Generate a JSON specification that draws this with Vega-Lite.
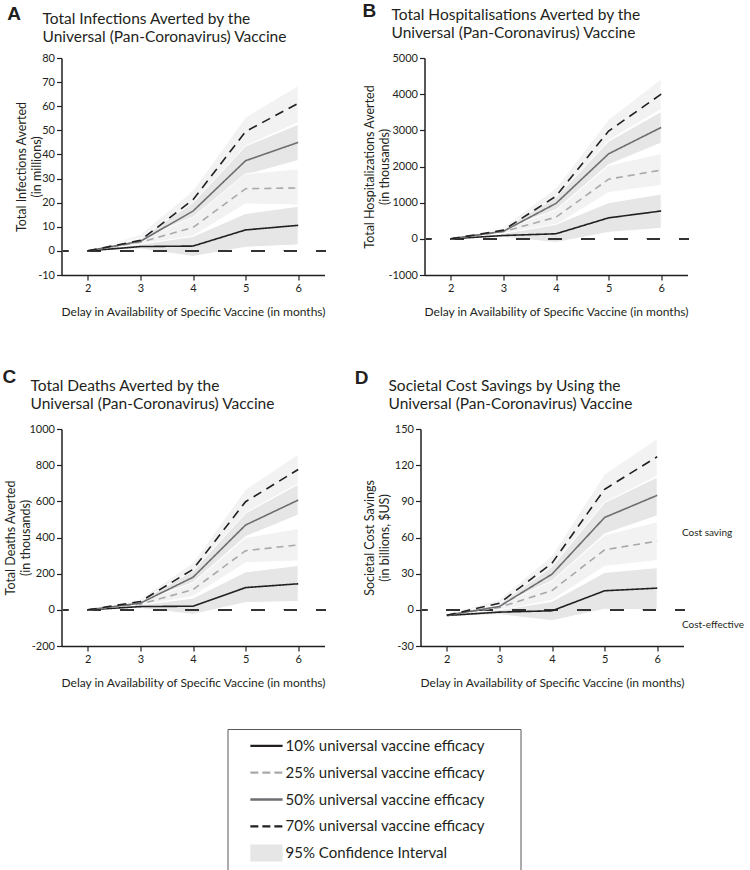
{
  "$schema": "https://vega.github.io/schema/vega-lite/v6.json",
  "background": "white",
  "padding": {"left": 2.5, "top": 2, "right": 5, "bottom": 0},
  "config": {
    "font": "Lato",
    "view": {"stroke": null},
    "axis": {"grid": false, "domainColor": "#231f20", "tickColor": "#231f20", "labelColor": "#231f20", "titleColor": "#231f20", "domainWidth": 1.5, "tickWidth": 1.2, "tickSize": 5, "labelFontSize": 11, "titleFontWeight": "normal", "labelPadding": 2, "labelOverlap": false, "labelFlush": false},
    "axisX": {"titleFontSize": 12, "titlePadding": 13},
    "axisY": {"titleFontSize": 12.5, "titleLineHeight": 15, "titlePadding": 3},
    "title": {"fontSize": 15.5, "fontWeight": "normal", "color": "#231f20", "lineHeight": 18, "anchor": "start", "frame": "group"}
  },
  "resolve": {"scale": {"color": "independent", "strokeDash": "independent"}},
  "datasets": {
    "A": [
      {"x": 2, "s": "10%", "m": 0, "lo": 0, "hi": 0},
      {"x": 3, "s": "10%", "m": 1.8, "lo": 0.8, "hi": 2.8},
      {"x": 4, "s": "10%", "m": 2.0, "lo": -2.3, "hi": 6.0},
      {"x": 5, "s": "10%", "m": 8.7, "lo": 1.5, "hi": 15.5},
      {"x": 6, "s": "10%", "m": 10.6, "lo": 2.5, "hi": 18.5},
      {"x": 2, "s": "25%", "m": 0, "lo": 0, "hi": 0},
      {"x": 3, "s": "25%", "m": 3.6, "lo": 2.2, "hi": 5.0},
      {"x": 4, "s": "25%", "m": 9.7, "lo": 6.2, "hi": 14.0},
      {"x": 5, "s": "25%", "m": 25.8, "lo": 19.5, "hi": 32.0},
      {"x": 6, "s": "25%", "m": 26.1, "lo": 19.0, "hi": 34.0},
      {"x": 2, "s": "50%", "m": 0, "lo": 0, "hi": 0},
      {"x": 3, "s": "50%", "m": 4.0, "lo": 2.8, "hi": 5.5},
      {"x": 4, "s": "50%", "m": 16.5, "lo": 13.5, "hi": 20.0},
      {"x": 5, "s": "50%", "m": 37.4, "lo": 31.5, "hi": 43.5},
      {"x": 6, "s": "50%", "m": 45.0, "lo": 37.5, "hi": 52.5},
      {"x": 2, "s": "70%", "m": 0, "lo": 0, "hi": 0},
      {"x": 3, "s": "70%", "m": 4.4, "lo": 3.0, "hi": 6.8},
      {"x": 4, "s": "70%", "m": 21.2, "lo": 17.0, "hi": 25.0},
      {"x": 5, "s": "70%", "m": 49.5, "lo": 43.5, "hi": 55.5},
      {"x": 6, "s": "70%", "m": 61.2, "lo": 53.2, "hi": 68.5}
    ],
    "B": [
      {"x": 2, "s": "10%", "m": 0, "lo": 0, "hi": 0},
      {"x": 3, "s": "10%", "m": 92, "lo": 40, "hi": 150},
      {"x": 4, "s": "10%", "m": 140, "lo": -100, "hi": 400},
      {"x": 5, "s": "10%", "m": 580, "lo": 180, "hi": 1000},
      {"x": 6, "s": "10%", "m": 770, "lo": 290, "hi": 1240},
      {"x": 2, "s": "25%", "m": 0, "lo": 0, "hi": 0},
      {"x": 3, "s": "25%", "m": 200, "lo": 110, "hi": 270},
      {"x": 4, "s": "25%", "m": 600, "lo": 380, "hi": 800},
      {"x": 5, "s": "25%", "m": 1650, "lo": 1280, "hi": 2030},
      {"x": 6, "s": "25%", "m": 1900, "lo": 1480, "hi": 2360},
      {"x": 2, "s": "50%", "m": 0, "lo": 0, "hi": 0},
      {"x": 3, "s": "50%", "m": 210, "lo": 140, "hi": 290},
      {"x": 4, "s": "50%", "m": 980, "lo": 800, "hi": 1150},
      {"x": 5, "s": "50%", "m": 2350, "lo": 2050, "hi": 2700},
      {"x": 6, "s": "50%", "m": 3080, "lo": 2650, "hi": 3520},
      {"x": 2, "s": "70%", "m": 0, "lo": 0, "hi": 0},
      {"x": 3, "s": "70%", "m": 240, "lo": 160, "hi": 330},
      {"x": 4, "s": "70%", "m": 1180, "lo": 1000, "hi": 1400},
      {"x": 5, "s": "70%", "m": 2980, "lo": 2720, "hi": 3300},
      {"x": 6, "s": "70%", "m": 4000, "lo": 3580, "hi": 4420}
    ],
    "C": [
      {"x": 2, "s": "10%", "m": 0, "lo": 0, "hi": 0},
      {"x": 3, "s": "10%", "m": 18, "lo": 8, "hi": 28},
      {"x": 4, "s": "10%", "m": 20, "lo": -25, "hi": 65},
      {"x": 5, "s": "10%", "m": 123, "lo": 40, "hi": 210},
      {"x": 6, "s": "10%", "m": 144, "lo": 46, "hi": 245},
      {"x": 2, "s": "25%", "m": 0, "lo": 0, "hi": 0},
      {"x": 3, "s": "25%", "m": 31, "lo": 20, "hi": 45},
      {"x": 4, "s": "25%", "m": 112, "lo": 75, "hi": 150},
      {"x": 5, "s": "25%", "m": 327, "lo": 260, "hi": 400},
      {"x": 6, "s": "25%", "m": 359, "lo": 270, "hi": 450},
      {"x": 2, "s": "50%", "m": 0, "lo": 0, "hi": 0},
      {"x": 3, "s": "50%", "m": 37, "lo": 25, "hi": 50},
      {"x": 4, "s": "50%", "m": 180, "lo": 150, "hi": 215},
      {"x": 5, "s": "50%", "m": 469, "lo": 405, "hi": 535},
      {"x": 6, "s": "50%", "m": 607, "lo": 524, "hi": 695},
      {"x": 2, "s": "70%", "m": 0, "lo": 0, "hi": 0},
      {"x": 3, "s": "70%", "m": 46, "lo": 30, "hi": 60},
      {"x": 4, "s": "70%", "m": 224, "lo": 185, "hi": 260},
      {"x": 5, "s": "70%", "m": 598, "lo": 535, "hi": 666},
      {"x": 6, "s": "70%", "m": 776, "lo": 697, "hi": 861}
    ],
    "D": [
      {"x": 2, "s": "10%", "m": -4.7, "lo": -5.5, "hi": -4.0},
      {"x": 3, "s": "10%", "m": -1.9, "lo": -4.0, "hi": 0},
      {"x": 4, "s": "10%", "m": -0.8, "lo": -9.0, "hi": 7.0},
      {"x": 5, "s": "10%", "m": 15.8, "lo": 0.5, "hi": 31.0},
      {"x": 6, "s": "10%", "m": 18.0, "lo": 0, "hi": 35.0},
      {"x": 2, "s": "25%", "m": -4.5, "lo": -5.5, "hi": -3.5},
      {"x": 3, "s": "25%", "m": 2.0, "lo": -1.0, "hi": 4.0},
      {"x": 4, "s": "25%", "m": 16.0, "lo": 8.0, "hi": 24.0},
      {"x": 5, "s": "25%", "m": 49.8, "lo": 36.0, "hi": 62.0},
      {"x": 6, "s": "25%", "m": 57.0, "lo": 41.0, "hi": 73.0},
      {"x": 2, "s": "50%", "m": -4.5, "lo": -5.5, "hi": -3.5},
      {"x": 3, "s": "50%", "m": 2.8, "lo": 0, "hi": 5.0},
      {"x": 4, "s": "50%", "m": 29.6, "lo": 24.0, "hi": 36.0},
      {"x": 5, "s": "50%", "m": 76.6, "lo": 63.0, "hi": 89.0},
      {"x": 6, "s": "50%", "m": 95.0, "lo": 78.0, "hi": 110.0},
      {"x": 2, "s": "70%", "m": -4.5, "lo": -5.5, "hi": -3.5},
      {"x": 3, "s": "70%", "m": 5.5, "lo": 1.5, "hi": 8.5},
      {"x": 4, "s": "70%", "m": 38.7, "lo": 30.0, "hi": 45.0},
      {"x": 5, "s": "70%", "m": 100.0, "lo": 89.0, "hi": 112.5},
      {"x": 6, "s": "70%", "m": 127.0, "lo": 111.0, "hi": 142.0}
    ]
  },
  "vconcat": [
    {
      "vconcat": [
        {
          "hconcat": [
            {
              "width": 263, "height": 217,
              "data": {"name": "A"},
              "title": {"text": ["Total Infections Averted by the", "Universal (Pan-Coronavirus) Vaccine"], "dx": -19, "offset": -40},
              "layer": [
                {"transform": [{"filter": "datum.s === '70%'"}], "mark": {"type": "area", "color": "#f2f2f2", "stroke": "white", "strokeWidth": 1},
                 "encoding": {
                   "x": {"field": "x", "type": "quantitative", "scale": {"domain": [1.5, 6.5], "nice": false}, "axis": {"values": [2, 3, 4, 5, 6], "format": "d", "title": "Delay in Availability of Specific Vaccine (in months)"}},
                   "y": {"field": "lo", "type": "quantitative", "scale": {"domain": [-10, 80], "nice": false}, "axis": {"values": [-10, 0, 10, 20, 30, 40, 50, 60, 70, 80], "tickCount": 12, "labelOverlap": false, "titlePadding": -6, "labelExpr": "datum.value < 0 ? '-' + abs(datum.value) : '' + datum.value", "title": ["Total Infections Averted", "(in millions)"]}},
                   "y2": {"field": "hi"}}},
                {"transform": [{"filter": "datum.s === '50%'"}], "mark": {"type": "area", "color": "#e6e6e6", "stroke": "white", "strokeWidth": 1},
                 "encoding": {"x": {"field": "x", "type": "quantitative"}, "y": {"field": "lo", "type": "quantitative"}, "y2": {"field": "hi"}}},
                {"transform": [{"filter": "datum.s === '25%'"}], "mark": {"type": "area", "color": "#f2f2f2", "stroke": "white", "strokeWidth": 1},
                 "encoding": {"x": {"field": "x", "type": "quantitative"}, "y": {"field": "lo", "type": "quantitative"}, "y2": {"field": "hi"}}},
                {"transform": [{"filter": "datum.s === '10%'"}], "mark": {"type": "area", "color": "#e6e6e6", "stroke": "white", "strokeWidth": 1},
                 "encoding": {"x": {"field": "x", "type": "quantitative"}, "y": {"field": "lo", "type": "quantitative"}, "y2": {"field": "hi"}}},
                {"mark": {"type": "rule", "color": "#333333", "strokeWidth": 1.8, "strokeDash": [13, 19.7], "strokeDashOffset": 8},
                 "encoding": {"x": {"datum": 1.53, "type": "quantitative"}, "x2": {"datum": 6.52}, "y": {"datum": 0, "type": "quantitative"}}},
                {"mark": {"type": "line", "strokeWidth": 1.6},
                 "encoding": {"x": {"field": "x", "type": "quantitative"}, "y": {"field": "m", "type": "quantitative"},
                   "color": {"field": "s", "type": "nominal", "scale": {"domain": ["10%", "25%", "50%", "70%"], "range": ["#231f20", "#a7a9ac", "#6d6e71", "#231f20"]}, "legend": null},
                   "strokeDash": {"field": "s", "type": "nominal", "scale": {"domain": ["10%", "25%", "50%", "70%"], "range": [[1, 0], [7, 5], [1, 0], [9, 6]]}, "legend": null}}},
                {"data": {"values": [{"lab": "A", "lx": 0.47, "ly": 98.2}]},
                 "mark": {"type": "text", "font": "Liberation Sans", "fontWeight": "bold", "fontSize": 19, "align": "left", "baseline": "middle", "color": "#231f20"},
                 "encoding": {"x": {"field": "lx", "type": "quantitative"}, "y": {"field": "ly", "type": "quantitative"}, "text": {"field": "lab"}}}
              ]
            },
            {
              "width": 263, "height": 217,
              "data": {"name": "B"},
              "title": {"text": ["Total Hospitalisations Averted by the", "Universal (Pan-Coronavirus) Vaccine"], "dx": -33, "offset": -39.5},
              "layer": [
                {"transform": [{"filter": "datum.s === '70%'"}], "mark": {"type": "area", "color": "#f2f2f2", "stroke": "white", "strokeWidth": 1},
                 "encoding": {
                   "x": {"field": "x", "type": "quantitative", "scale": {"domain": [1.5, 6.5], "nice": false}, "axis": {"values": [2, 3, 4, 5, 6], "format": "d", "title": "Delay in Availability of Specific Vaccine (in months)"}},
                   "y": {"field": "lo", "type": "quantitative", "scale": {"domain": [-1000, 5000], "nice": false}, "axis": {"values": [-1000, 0, 1000, 2000, 3000, 4000, 5000], "tickCount": 12, "labelOverlap": false, "titlePadding": -3.5, "labelExpr": "datum.value < 0 ? '-' + abs(datum.value) : '' + datum.value", "title": ["Total Hospitalizations Averted", "(in thousands)"]}},
                   "y2": {"field": "hi"}}},
                {"transform": [{"filter": "datum.s === '50%'"}], "mark": {"type": "area", "color": "#e6e6e6", "stroke": "white", "strokeWidth": 1},
                 "encoding": {"x": {"field": "x", "type": "quantitative"}, "y": {"field": "lo", "type": "quantitative"}, "y2": {"field": "hi"}}},
                {"transform": [{"filter": "datum.s === '25%'"}], "mark": {"type": "area", "color": "#f2f2f2", "stroke": "white", "strokeWidth": 1},
                 "encoding": {"x": {"field": "x", "type": "quantitative"}, "y": {"field": "lo", "type": "quantitative"}, "y2": {"field": "hi"}}},
                {"transform": [{"filter": "datum.s === '10%'"}], "mark": {"type": "area", "color": "#e6e6e6", "stroke": "white", "strokeWidth": 1},
                 "encoding": {"x": {"field": "x", "type": "quantitative"}, "y": {"field": "lo", "type": "quantitative"}, "y2": {"field": "hi"}}},
                {"mark": {"type": "rule", "color": "#333333", "strokeWidth": 1.8, "strokeDash": [13, 19.7], "strokeDashOffset": 8},
                 "encoding": {"x": {"datum": 1.53, "type": "quantitative"}, "x2": {"datum": 6.52}, "y": {"datum": 0, "type": "quantitative"}}},
                {"mark": {"type": "line", "strokeWidth": 1.6},
                 "encoding": {"x": {"field": "x", "type": "quantitative"}, "y": {"field": "m", "type": "quantitative"},
                   "color": {"field": "s", "type": "nominal", "scale": {"domain": ["10%", "25%", "50%", "70%"], "range": ["#231f20", "#a7a9ac", "#6d6e71", "#231f20"]}, "legend": null},
                   "strokeDash": {"field": "s", "type": "nominal", "scale": {"domain": ["10%", "25%", "50%", "70%"], "range": [[1, 0], [7, 5], [1, 0], [9, 6]]}, "legend": null}}},
                {"data": {"values": [{"lab": "B", "lx": 0.32, "ly": 6286}]},
                 "mark": {"type": "text", "font": "Liberation Sans", "fontWeight": "bold", "fontSize": 19, "align": "left", "baseline": "middle", "color": "#231f20"},
                 "encoding": {"x": {"field": "lx", "type": "quantitative"}, "y": {"field": "ly", "type": "quantitative"}, "text": {"field": "lab"}}}
              ]
            }
          ],
          "spacing": 35
        },
        {
          "hconcat": [
            {
              "width": 263, "height": 217,
              "data": {"name": "C"},
              "title": {"text": ["Total Deaths Averted by the", "Universal (Pan-Coronavirus) Vaccine"], "dx": -31, "offset": -44.8},
              "layer": [
                {"transform": [{"filter": "datum.s === '70%'"}], "mark": {"type": "area", "color": "#f2f2f2", "stroke": "white", "strokeWidth": 1},
                 "encoding": {
                   "x": {"field": "x", "type": "quantitative", "scale": {"domain": [1.5, 6.5], "nice": false}, "axis": {"values": [2, 3, 4, 5, 6], "format": "d", "title": "Delay in Availability of Specific Vaccine (in months)"}},
                   "y": {"field": "lo", "type": "quantitative", "scale": {"domain": [-200, 1000], "nice": false}, "axis": {"values": [-200, 0, 200, 400, 600, 800, 1000], "tickCount": 12, "labelOverlap": false, "titlePadding": -4, "labelExpr": "datum.value < 0 ? '-' + abs(datum.value) : '' + datum.value", "title": ["Total Deaths Averted", "(in thousands)"]}},
                   "y2": {"field": "hi"}}},
                {"transform": [{"filter": "datum.s === '50%'"}], "mark": {"type": "area", "color": "#e6e6e6", "stroke": "white", "strokeWidth": 1},
                 "encoding": {"x": {"field": "x", "type": "quantitative"}, "y": {"field": "lo", "type": "quantitative"}, "y2": {"field": "hi"}}},
                {"transform": [{"filter": "datum.s === '25%'"}], "mark": {"type": "area", "color": "#f2f2f2", "stroke": "white", "strokeWidth": 1},
                 "encoding": {"x": {"field": "x", "type": "quantitative"}, "y": {"field": "lo", "type": "quantitative"}, "y2": {"field": "hi"}}},
                {"transform": [{"filter": "datum.s === '10%'"}], "mark": {"type": "area", "color": "#e6e6e6", "stroke": "white", "strokeWidth": 1},
                 "encoding": {"x": {"field": "x", "type": "quantitative"}, "y": {"field": "lo", "type": "quantitative"}, "y2": {"field": "hi"}}},
                {"mark": {"type": "rule", "color": "#333333", "strokeWidth": 1.8, "strokeDash": [13, 19.7], "strokeDashOffset": 8},
                 "encoding": {"x": {"datum": 1.53, "type": "quantitative"}, "x2": {"datum": 6.52}, "y": {"datum": 0, "type": "quantitative"}}},
                {"mark": {"type": "line", "strokeWidth": 1.6},
                 "encoding": {"x": {"field": "x", "type": "quantitative"}, "y": {"field": "m", "type": "quantitative"},
                   "color": {"field": "s", "type": "nominal", "scale": {"domain": ["10%", "25%", "50%", "70%"], "range": ["#231f20", "#a7a9ac", "#6d6e71", "#231f20"]}, "legend": null},
                   "strokeDash": {"field": "s", "type": "nominal", "scale": {"domain": ["10%", "25%", "50%", "70%"], "range": [[1, 0], [7, 5], [1, 0], [9, 6]]}, "legend": null}}},
                {"data": {"values": [{"lab": "C", "lx": 0.38, "ly": 1289}]},
                 "mark": {"type": "text", "font": "Liberation Sans", "fontWeight": "bold", "fontSize": 19, "align": "left", "baseline": "middle", "color": "#231f20"},
                 "encoding": {"x": {"field": "lx", "type": "quantitative"}, "y": {"field": "ly", "type": "quantitative"}, "text": {"field": "lab"}}}
              ]
            },
            {
              "width": 263, "height": 217,
              "data": {"name": "D"},
              "title": {"text": ["Societal Cost Savings by Using the", "Universal (Pan-Coronavirus) Vaccine"], "dx": -32, "offset": -44},
              "layer": [
                {"transform": [{"filter": "datum.s === '70%'"}], "mark": {"type": "area", "color": "#f2f2f2", "stroke": "white", "strokeWidth": 1},
                 "encoding": {
                   "x": {"field": "x", "type": "quantitative", "scale": {"domain": [1.5, 6.5], "nice": false}, "axis": {"values": [2, 3, 4, 5, 6], "format": "d", "title": "Delay in Availability of Specific Vaccine (in months)"}},
                   "y": {"field": "lo", "type": "quantitative", "scale": {"domain": [-30, 150], "nice": false}, "axis": {"values": [-30, 0, 30, 60, 90, 120, 150], "tickCount": 12, "labelOverlap": false, "labelExpr": "datum.value < 0 ? '-' + abs(datum.value) : '' + datum.value", "title": ["Societal Cost Savings", "(in billions, $US)"]}},
                   "y2": {"field": "hi"}}},
                {"transform": [{"filter": "datum.s === '50%'"}], "mark": {"type": "area", "color": "#e6e6e6", "stroke": "white", "strokeWidth": 1},
                 "encoding": {"x": {"field": "x", "type": "quantitative"}, "y": {"field": "lo", "type": "quantitative"}, "y2": {"field": "hi"}}},
                {"transform": [{"filter": "datum.s === '25%'"}], "mark": {"type": "area", "color": "#f2f2f2", "stroke": "white", "strokeWidth": 1},
                 "encoding": {"x": {"field": "x", "type": "quantitative"}, "y": {"field": "lo", "type": "quantitative"}, "y2": {"field": "hi"}}},
                {"transform": [{"filter": "datum.s === '10%'"}], "mark": {"type": "area", "color": "#e6e6e6", "stroke": "white", "strokeWidth": 1},
                 "encoding": {"x": {"field": "x", "type": "quantitative"}, "y": {"field": "lo", "type": "quantitative"}, "y2": {"field": "hi"}}},
                {"mark": {"type": "rule", "color": "#333333", "strokeWidth": 1.8, "strokeDash": [13, 19.7], "strokeDashOffset": 8},
                 "encoding": {"x": {"datum": 1.53, "type": "quantitative"}, "x2": {"datum": 6.52}, "y": {"datum": 0, "type": "quantitative"}}},
                {"mark": {"type": "line", "strokeWidth": 1.6},
                 "encoding": {"x": {"field": "x", "type": "quantitative"}, "y": {"field": "m", "type": "quantitative"},
                   "color": {"field": "s", "type": "nominal", "scale": {"domain": ["10%", "25%", "50%", "70%"], "range": ["#231f20", "#a7a9ac", "#6d6e71", "#231f20"]}, "legend": null},
                   "strokeDash": {"field": "s", "type": "nominal", "scale": {"domain": ["10%", "25%", "50%", "70%"], "range": [[1, 0], [7, 5], [1, 0], [9, 6]]}, "legend": null}}},
                {"data": {"values": [{"lab": "D", "lx": 0.25, "ly": 192.7}]},
                 "mark": {"type": "text", "font": "Liberation Sans", "fontWeight": "bold", "fontSize": 19, "align": "left", "baseline": "middle", "color": "#231f20"},
                 "encoding": {"x": {"field": "lx", "type": "quantitative"}, "y": {"field": "ly", "type": "quantitative"}, "text": {"field": "lab"}}},
                {"data": {"values": [{"t": "Cost saving", "tx": 6.47, "ty": 63.6}, {"t": "Cost-effective", "tx": 6.47, "ty": -12.4}]},
                 "mark": {"type": "text", "fontSize": 10, "align": "left", "baseline": "middle", "color": "#231f20"},
                 "encoding": {"x": {"field": "tx", "type": "quantitative"}, "y": {"field": "ty", "type": "quantitative"}, "text": {"field": "t"}}}
              ]
            }
          ],
          "spacing": 28
        }
      ],
      "spacing": 50
    },
    {
      "hconcat": [
        {
          "width": 165, "height": 141,
          "data": {"values": [{"t": ""}]},
          "mark": {"type": "text"},
          "encoding": {"text": {"field": "t"}}
        },
        {
          "width": 293, "height": 141,
          "view": {"stroke": "#58595b", "strokeWidth": 1},
          "data": {"values": [
            {"label": "10% universal vaccine efficacy"},
            {"label": "25% universal vaccine efficacy"},
            {"label": "50% universal  vaccine efficacy"},
            {"label": "70% universal  vaccine efficacy"},
            {"label": "95% Confidence Interval"}
          ]},
          "encoding": {"y": {"field": "label", "type": "nominal", "sort": null, "scale": {"type": "point", "padding": 0.63}, "axis": null}},
          "layer": [
            {"mark": {"type": "rule", "strokeCap": "butt", "strokeWidth": 2.3},
             "encoding": {
               "x": {"datum": 0.078, "type": "quantitative", "scale": {"domain": [0, 1], "nice": false}, "axis": null},
               "x2": {"datum": 0.188},
               "color": {"field": "label", "type": "nominal", "scale": {"range": ["#231f20", "#a7a9ac", "#6d6e71", "#231f20", "#e6e6e6"]}, "legend": null, "sort": null},
               "strokeDash": {"field": "label", "type": "nominal", "scale": {"range": [[1, 0], [8, 4], [1, 0], [8, 4], [1, 0]]}, "legend": null, "sort": null}}},
            {"transform": [{"filter": "datum.label === '95% Confidence Interval'"}],
             "mark": {"type": "rule", "strokeCap": "butt", "strokeWidth": 17, "color": "#e6e6e6"},
             "encoding": {"x": {"datum": 0.078, "type": "quantitative", "axis": null}, "x2": {"datum": 0.188}}},
            {"mark": {"type": "text", "align": "left", "baseline": "middle", "fontSize": 15, "color": "#231f20"},
             "encoding": {"x": {"datum": 0.198, "type": "quantitative", "axis": null}, "text": {"field": "label"}}}
          ]
        }
      ],
      "spacing": 0
    }
  ],
  "spacing": 40
}
